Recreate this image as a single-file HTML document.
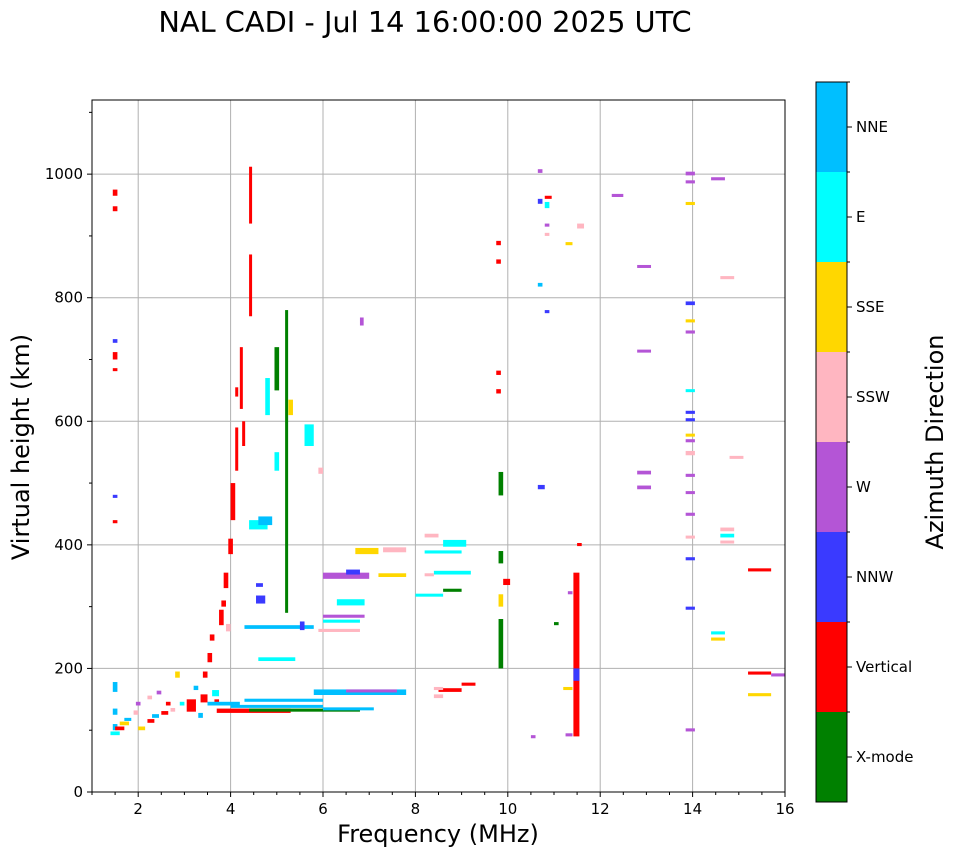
<!DOCTYPE html>
<html><head><meta charset="utf-8">
<style>
body{margin:0;background:#fff;font-family:"DejaVu Sans","Liberation Sans",sans-serif;}
svg text{font-family:"DejaVu Sans","Liberation Sans",sans-serif;}
</style></head>
<body>
<svg id="chart" width="958" height="857" viewBox="0 0 958 857" xmlns="http://www.w3.org/2000/svg">
<text x="425" y="32" font-size="28.8" text-anchor="middle" fill="#000">NAL CADI - Jul 14 16:00:00 2025 UTC</text>
<g id="grid"></g>
<g id="marks"></g>
<rect x="92" y="100" width="693" height="692" fill="none" stroke="#000" stroke-width="1"/>
<g id="axes"></g>
<text x="438" y="842" font-size="24" text-anchor="middle">Frequency (MHz)</text>
<text transform="translate(29,447) rotate(-90)" font-size="24" text-anchor="middle">Virtual height (km)</text>
<g id="cbar"></g>
<text transform="translate(943,442) rotate(-90)" font-size="24" text-anchor="middle">Azimuth Direction</text>
</svg>
<script>
const xTicks=[2,4,6,8,10,12,14,16];
const yTicks=[0,200,400,600,800,1000];
const categories=["X-mode","Vertical","NNW","W","SSW","SSE","E","NNE"];
const catColors=["#008000","#ff0000","#3a3aff","#b455d6","#ffb6c1","#ffd700","#00ffff","#00bfff"];
// echoes: [freqStart, freqEnd, heightLow, heightHigh, category]
const echoes=[
[1.45,1.55,965,975,1],[1.45,1.55,940,948,1],[1.45,1.55,700,712,1],[1.45,1.55,435,440,1],[1.45,1.55,727,733,2],[1.45,1.55,476,481,2],[1.45,1.55,682,686,1],
[1.45,1.55,162,178,7],[1.45,1.55,125,135,7],[1.45,1.55,100,110,7],[1.4,1.6,92,98,6],[1.5,1.7,100,106,1],[1.6,1.8,108,114,5],[1.7,1.85,115,120,7],[1.9,2.0,125,132,4],[1.95,2.05,140,146,3],[2.0,2.15,100,106,5],[2.2,2.35,112,118,1],[2.3,2.45,120,126,7],[2.5,2.65,125,131,1],[2.4,2.5,158,164,3],[2.8,2.9,185,195,5],[2.9,3.0,140,146,6],[2.6,2.7,140,146,1],[2.7,2.8,130,136,4],[2.2,2.3,150,156,4],
[3.05,3.25,130,150,1],[3.2,3.3,165,172,7],[3.35,3.5,145,158,1],[3.5,3.6,210,225,1],[3.4,3.5,185,195,1],[3.6,3.75,155,165,6],[3.75,3.85,270,295,1],[3.85,3.95,330,355,1],[3.95,4.05,385,410,1],[4.0,4.1,440,500,1],[4.1,4.15,520,590,1],[4.2,4.25,620,720,1],[4.4,4.45,770,870,1],[4.4,4.45,920,1012,1],[3.9,4.0,260,272,4],[3.55,3.65,245,255,1],[3.8,3.9,300,310,1],[4.1,4.15,640,655,1],[4.25,4.3,560,600,1],[3.65,3.75,140,150,1],[3.3,3.4,120,128,7],
[3.7,5.3,128,135,1],[4.4,6.8,130,135,0],[4.0,6.0,137,141,7],[4.3,6.0,146,151,7],[5.8,7.8,157,166,7],[6.5,7.6,162,166,3],[6.0,7.1,134,137,7],[3.5,4.2,140,146,7],
[4.4,4.8,425,440,6],[4.6,4.9,432,446,7],[4.95,5.05,520,550,6],[4.75,4.85,610,670,6],[5.6,5.8,560,595,6],[5.9,6.0,515,525,4],[5.18,5.24,290,780,0],[4.95,5.05,650,720,0],[5.25,5.35,610,635,5],
[4.6,5.4,212,218,6],[4.3,5.8,264,270,7],[5.5,5.6,262,276,2],[6.0,6.9,282,287,3],[6.0,6.8,274,279,6],[5.9,6.8,259,264,4],[6.3,6.9,302,312,6],[6.0,7.0,345,355,3],[6.5,6.8,352,360,2],[6.7,7.2,385,395,5],[7.2,7.8,348,354,5],[7.3,7.8,388,396,4],[6.8,6.88,755,768,3],[4.55,4.75,305,318,2],[4.55,4.7,332,338,2],
[8.2,9.0,386,391,6],[8.6,9.1,397,408,6],[8.2,8.5,412,418,4],[8.0,8.6,317,321,6],[8.4,9.2,352,358,6],[8.6,9.0,324,329,0],[8.2,8.4,350,354,4],[8.5,9.0,162,168,1],[9.0,9.3,172,177,1],[8.4,8.6,165,170,4],[8.4,8.6,152,158,4],
[9.75,9.85,885,892,1],[9.75,9.85,855,862,1],[9.75,9.85,675,682,1],[9.75,9.85,645,652,1],[9.8,9.9,480,518,0],[9.8,9.9,370,390,0],[9.8,9.9,200,280,0],[9.9,10.05,335,345,1],[9.8,9.9,300,320,5],
[10.65,10.75,1002,1008,3],[10.65,10.75,952,960,2],[10.8,10.95,960,965,1],[10.8,10.9,945,955,6],[10.8,10.9,915,920,3],[10.8,10.9,900,905,4],[10.65,10.75,818,824,7],[10.8,10.9,775,780,2],[10.65,10.8,490,497,2],[11.25,11.4,885,890,5],[11.5,11.65,912,920,4],[10.5,10.6,87,92,3],[11.0,11.1,270,275,0],
[11.42,11.55,90,355,1],[11.42,11.55,180,200,2],[11.5,11.6,398,403,1],[11.25,11.4,90,95,3],[11.3,11.4,320,325,3],[11.2,11.4,165,170,5],
[12.25,12.5,963,968,3],[12.8,13.1,850,853,3],[12.8,13.1,712,716,3],[12.8,13.1,514,520,3],[12.8,13.1,490,496,3],
[13.85,14.05,998,1004,3],[13.85,14.05,985,990,3],[13.85,14.05,950,955,5],[13.85,14.05,788,794,2],[13.85,14.05,760,765,5],[13.85,14.05,742,747,3],[13.85,14.05,648,652,6],[13.85,14.05,612,617,2],[13.85,14.05,600,605,2],[13.85,14.05,576,580,5],[13.85,14.05,566,571,3],[13.85,14.05,545,552,4],[13.85,14.05,510,515,3],[13.85,14.05,483,487,3],[13.85,14.05,447,452,3],[13.85,14.05,412,415,4],[13.85,14.05,375,380,2],[13.85,14.05,295,300,2],[13.85,14.05,98,103,3],
[14.4,14.7,990,995,3],[14.6,14.9,830,835,4],[14.6,14.9,422,428,4],[14.6,14.9,412,418,6],[14.6,14.9,403,407,4],[14.4,14.7,255,260,6],[14.4,14.7,245,250,5],[14.8,15.1,540,544,4],
[15.2,15.7,357,362,1],[15.2,15.7,190,195,1],[15.2,15.7,155,160,5],[15.7,16.0,187,192,3]
];
const NS="http://www.w3.org/2000/svg";
const X0=92,X1=785,Y0=792,Y1=100,FMIN=1,FMAX=16,HMIN=0,HMAX=1120;
function xs(f){return X0+(f-FMIN)/(FMAX-FMIN)*(X1-X0);}
function ys(h){return Y0-(h-HMIN)/(HMAX-HMIN)*(Y0-Y1);}
function mk(t,a,p){const e=document.createElementNS(NS,t);for(const k in a)e.setAttribute(k,a[k]);p.appendChild(e);return e;}
const grid=document.getElementById('grid'),axes=document.getElementById('axes'),marks=document.getElementById('marks'),cb=document.getElementById('cbar');
xTicks.forEach(v=>{const x=xs(v);
 const g=mk('line',{x1:x,x2:x,y1:Y1,y2:Y0,stroke:'#b0b0b0','stroke-width':1},grid);
 
 
 mk('line',{x1:x,x2:x,y1:Y0,y2:Y0+5,stroke:'#000'},axes);
 const t=mk('text',{x:x,y:Y0+22,'font-size':15,'text-anchor':'middle'},axes);t.textContent=v;
 
 
});
yTicks.forEach(v=>{const y=ys(v);
 const g=mk('line',{x1:X0,x2:X1,y1:y,y2:y,stroke:'#b0b0b0','stroke-width':1},grid);
 
 
 mk('line',{x1:X0-5,x2:X0,y1:y,y2:y,stroke:'#000'},axes);
 const t=mk('text',{x:X0-9,y:y+5,'font-size':15,'text-anchor':'end'},axes);t.textContent=v;
 
 
});
for(let v=1;v<16;v+=0.5){if(v%2===0)continue;const x=xs(v);mk('line',{x1:x,x2:x,y1:Y0,y2:Y0+3,stroke:'#000'},axes);}
for(let v=100;v<1120;v+=200){const y=ys(v);mk('line',{x1:X0-3,x2:X0,y1:y,y2:y,stroke:'#000'},axes);}
echoes.forEach(d=>{
 const x=xs(d[0]),w=Math.max(3,xs(d[1])-x),y=ys(d[3]),h=Math.max(3,ys(d[2])-y);
 const r=mk('rect',{x:x,y:y,width:w,height:h,fill:catColors[d[4]]},marks);
 
 
});
const CX=816,CW=31,CT=82,CB=802,seg=(CB-CT)/categories.length;
categories.forEach((c,i)=>{
 const y=CB-(i+1)*seg;
 const r=mk('rect',{x:CX,y:y,width:CW,height:seg,fill:catColors[i]},cb);
 
 
 mk('line',{x1:CX+CW,x2:CX+CW+5,y1:y+seg/2,y2:y+seg/2,stroke:'#000'},cb);
 mk('line',{x1:CX+CW,x2:CX+CW+3,y1:y,y2:y,stroke:'#000'},cb);
 const t=mk('text',{x:CX+CW+9,y:y+seg/2+5,'font-size':15},cb);t.textContent=c;
 
 
});
mk('rect',{x:CX,y:CT,width:CW,height:CB-CT,fill:'none',stroke:'#000'},cb);
</script>
</body></html>
